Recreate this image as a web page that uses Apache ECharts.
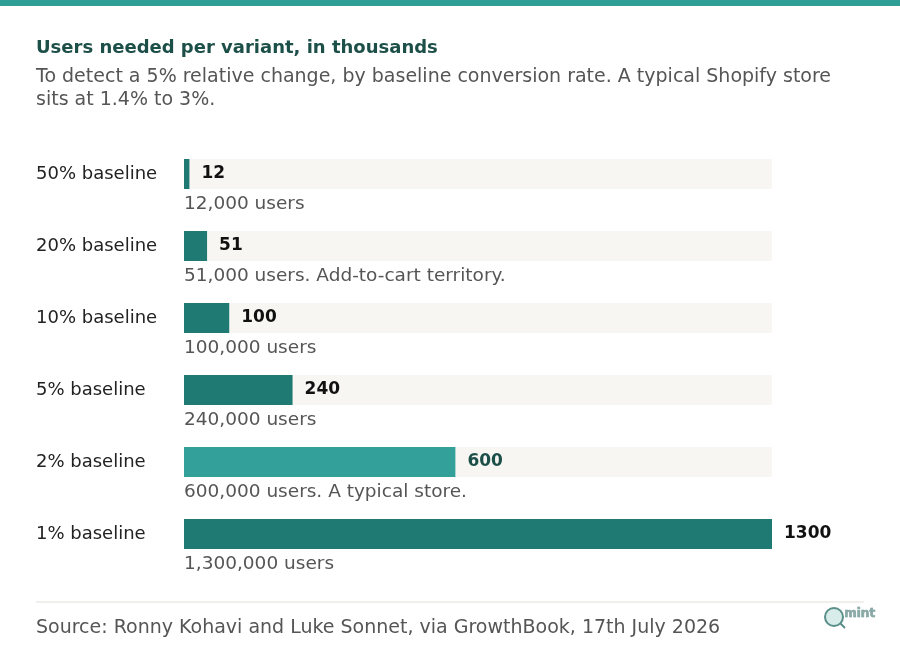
<!DOCTYPE html>
<html>
<head>
<meta charset="utf-8">
<script src="https://cdn.jsdelivr.net/npm/echarts@6/dist/echarts.min.js"></script>
<style>
  html, body { margin: 0; padding: 0; background: #ffffff; }
  #chart { width: 900px; height: 654px; }
</style>
</head>
<body>
<div id="chart"></div>
<script>
var categories = ['50% baseline', '20% baseline', '10% baseline', '5% baseline', '2% baseline', '1% baseline'];
var usersThousands = [12, 51, 100, 240, 600, 1300];
var notes = [
  '12,000 users',
  '51,000 users. Add-to-cart territory.',
  '100,000 users',
  '240,000 users',
  '600,000 users. A typical store.',
  '1,300,000 users'
];
var highlight = '2% baseline';

var font = 'DejaVu Sans';
var dark = '#1f7a73';
var light = '#33a199';

var chart = echarts.init(document.getElementById('chart'));

var barData = usersThousands.map(function (v, i) {
  var hi = categories[i] === highlight;
  return {
    value: v,
    itemStyle: { color: hi ? light : dark },
    label: { color: hi ? '#1d4f49' : '#111111' }
  };
});

var option = {
  backgroundColor: '#ffffff',
  animation: false,
  title: {
    left: 36,
    top: 39,
    padding: 0,
    text: 'Users needed per variant, in thousands',
    subtext: 'To detect a 5% relative change, by baseline conversion rate. A typical Shopify store\nsits at 1.4% to 3%.',
    itemGap: 9,
    textStyle: { fontFamily: font, fontSize: 18, fontWeight: 'bold', color: '#1d4f49' },
    subtextStyle: { fontFamily: font, fontSize: 19, color: '#555555', lineHeight: 23 }
  },
  grid: { left: 184, right: 128, top: 138, bottom: 84 },
  xAxis: {
    type: 'value',
    min: 0,
    max: 1300,
    show: false
  },
  yAxis: {
    type: 'category',
    inverse: true,
    data: categories,
    axisLine: { show: false },
    axisTick: { show: false },
    axisLabel: {
      align: 'left',
      margin: 148,
      fontFamily: font,
      fontSize: 18,
      color: '#222222'
    }
  },
  series: [
    {
      type: 'bar',
      data: barData,
      barWidth: 30,
      showBackground: true,
      backgroundStyle: { color: '#f7f6f2' },
      label: {
        show: true,
        position: 'right',
        distance: 12,
        fontFamily: font,
        fontSize: 17,
        fontWeight: 'bold'
      },
      z: 2
    },
    {
      type: 'bar',
      data: usersThousands,
      barWidth: 30,
      barGap: '-100%',
      itemStyle: { color: 'rgba(0,0,0,0)' },
      label: {
        show: true,
        position: [0, 45],
        align: 'left',
        verticalAlign: 'middle',
        fontFamily: font,
        fontSize: 18.5,
        color: '#555555',
        formatter: function (p) { return notes[p.dataIndex]; }
      },
      silent: true,
      z: 3
    }
  ],
  graphic: [
    { type: 'rect', shape: { x: 0, y: 0, width: 900, height: 6 }, style: { fill: '#2e9e96' } },
    { type: 'line', shape: { x1: 36, y1: 602, x2: 864, y2: 602 }, style: { stroke: '#e3dfd7', lineWidth: 1 } },
    {
      type: 'text', left: 36, top: 619,
      style: {
        text: 'Source: Ronny Kohavi and Luke Sonnet, via GrowthBook, 17th July 2026',
        font: '19px "DejaVu Sans"', fill: '#555555'
      }
    },
    { type: 'circle', shape: { cx: 834, cy: 617, r: 9 }, style: { fill: '#d8ecea', stroke: '#5b8f8a', lineWidth: 2 } },
    { type: 'line', shape: { x1: 840, y1: 623, x2: 845, y2: 628 }, style: { stroke: '#5b8f8a', lineWidth: 2 } },
    {
      type: 'text', left: 844, top: 608,
      style: { text: 'mint', font: 'bold 12px "DejaVu Sans"', fill: '#8aa9a6', stroke: '#5b8f8a', lineWidth: 0.5 }
    }
  ]
};

chart.setOption(option);
</script>
</body>
</html>
